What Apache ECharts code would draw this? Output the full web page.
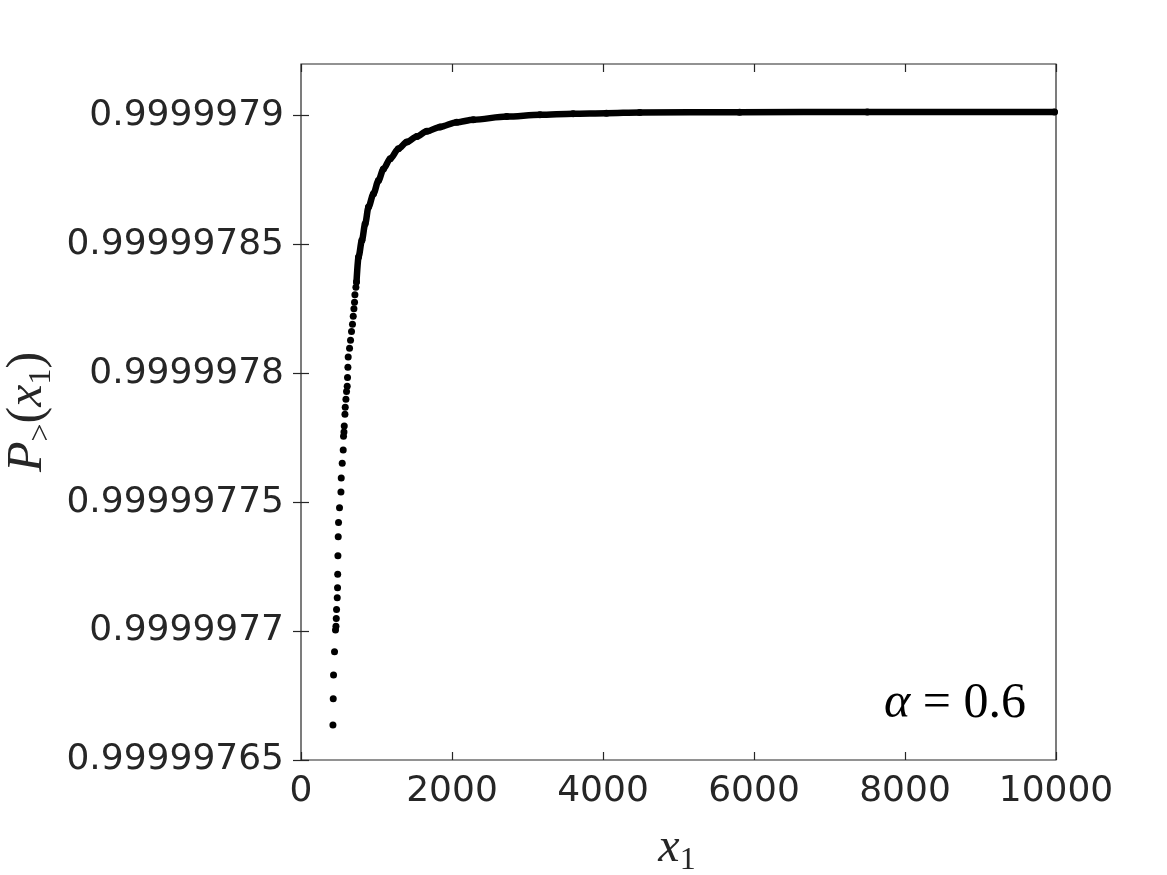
<!DOCTYPE html>
<html>
<head>
<meta charset="utf-8">
<script src="https://cdn.jsdelivr.net/npm/echarts@6/dist/echarts.min.js"></script>
<style>
    html, body { margin: 0; padding: 0; background: #fff; }
    #main { width: 1167px; height: 875px; }
</style>
</head>
<body>
<div id="main"></div>
<script>
// base of the y scale: values are plotted as (P - BASE) in units of 1e-8
var BASE = 0.9999976;

// isolated points at the bottom of the curve (x1, P)
var sparseX = [423, 427, 431, 444, 457, 463, 467, 471, 480, 484, 486, 489, 493, 497, 510, 529, 533, 546, 559, 563,
    569, 573, 582, 586, 595, 603, 612, 616, 621, 625, 643, 656, 669, 682, 692, 701, 709, 714, 727];
var sparseP = [0.9999976636, 0.9999976738, 0.9999976830, 0.9999976920, 0.9999977004, 0.9999977019, 0.9999977049,
    0.9999977084, 0.9999977129, 0.9999977168, 0.9999977221, 0.9999977292, 0.9999977366, 0.9999977421, 0.9999977479,
    0.9999977540, 0.9999977594, 0.9999977651, 0.9999977703, 0.9999977756, 0.9999977772, 0.9999977796, 0.9999977841,
    0.9999977868, 0.9999977899, 0.9999977930, 0.9999977950, 0.9999977984, 0.9999978024, 0.9999978063, 0.9999978097,
    0.9999978128, 0.9999978162, 0.9999978190, 0.9999978221, 0.9999978251, 0.9999978276, 0.9999978305, 0.9999978334];

// where the points overlap into a continuous band (x1, P)
var denseX = [735, 762, 807, 850, 894, 960, 1026, 1092, 1181, 1290, 1402, 1534, 1666, 1842, 2063, 2282, 2724,
    3164, 3604, 4046, 4486, 5809, 7500, 9980];
var denseP = [0.9999978354, 0.9999978451, 0.9999978516, 0.9999978580, 0.9999978645, 0.9999978697, 0.9999978748,
    0.9999978793, 0.9999978832, 0.9999978871, 0.9999978897, 0.9999978919, 0.9999978939, 0.9999978956, 0.9999978974,
    0.9999978984, 0.9999978996, 0.9999979003, 0.9999979007, 0.9999979009, 0.9999979012, 0.9999979013, 0.9999979014,
    0.9999979014];

var xTicks = [0, 2000, 4000, 6000, 8000, 10000];
var yTicks = [0.99999765, 0.9999977, 0.99999775, 0.9999978, 0.99999785, 0.9999979];
var yTop = 0.99999792;

function toU(p) {
    return Math.round((p - BASE) * 1e8 * 1e4) / 1e4;
}
function pairs(xs, ps) {
    return xs.map(function(x, i) { return [x, toU(ps[i])]; });
}

var dark = '#262626';
var tickFont = 'DejaVu Sans';
var mathFont = 'Liberation Serif';

var yMin = toU(yTicks[0]);
var yStep = toU(yTicks[1]) - toU(yTicks[0]);
var yMax = toU(yTop);
var yTickU = yTicks.map(toU);

function yLabel(v) {
    return ('0.' + String(99999760 + Math.round(v))).replace(/0+$/, '');
}

var myChart = echarts.init(document.getElementById('main'));

var tickStyle = { inside: true, length: 8, lineStyle: { color: dark, width: 1.2 } };

var option = {
    backgroundColor: '#fff',
    animation: false,
    grid: {
        left: 301,
        right: 111,
        top: 64,
        bottom: 115,
        show: true,
        borderColor: dark,
        borderWidth: 1.2
    },
    xAxis: [{
        type: 'value',
        min: xTicks[0],
        max: xTicks[xTicks.length - 1],
        interval: xTicks[1] - xTicks[0],
        axisLine: { show: false },
        axisTick: tickStyle,
        splitLine: { show: false },
        axisLabel: {
            color: dark, fontFamily: tickFont, fontSize: 36, margin: 14,
            formatter: function(v) { return String(v); }
        }
    }, {
        type: 'value',
        position: 'top',
        min: xTicks[0],
        max: xTicks[xTicks.length - 1],
        interval: xTicks[1] - xTicks[0],
        axisLine: { show: false },
        axisTick: tickStyle,
        splitLine: { show: false },
        axisLabel: { show: false }
    }],
    yAxis: [{
        type: 'value',
        min: yMin,
        max: yMax,
        interval: yStep,
        axisLine: { show: false },
        axisTick: { inside: true, length: 8, lineStyle: { color: dark, width: 1.2 }, customValues: yTickU },
        splitLine: { show: false },
        axisLabel: {
            color: dark, fontFamily: tickFont, fontSize: 36, margin: 17,
            customValues: yTickU,
            formatter: yLabel
        }
    }, {
        type: 'value',
        position: 'right',
        min: yMin,
        max: yMax,
        interval: yStep,
        axisLine: { show: false },
        axisTick: { inside: true, length: 8, lineStyle: { color: dark, width: 1.2 }, customValues: yTickU },
        splitLine: { show: false },
        axisLabel: { show: false }
    }],
    series: [{
        name: 'sparse',
        type: 'scatter',
        symbol: 'circle',
        symbolSize: 7,
        itemStyle: { color: '#000', opacity: 1 },
        data: pairs(sparseX, sparseP)
    }, {
        name: 'dense',
        type: 'line',
        symbol: 'circle',
        symbolSize: 7,
        showSymbol: true,
        smooth: 0.3,
        smoothMonotone: 'x',
        itemStyle: { color: '#000', opacity: 1 },
        lineStyle: { color: '#000', width: 6.5, cap: 'round', join: 'round' },
        data: pairs(denseX, denseP)
    }],
    graphic: [{
        type: 'text',
        x: 28,
        y: 412,
        rotation: Math.PI / 2,
        style: {
            text: '{i|P}{s|>}{n|(}{i|x}{s|1}{n|)}',
            align: 'center',
            verticalAlign: 'middle',
            fill: dark,
            rich: {
                i: { fontFamily: mathFont, fontStyle: 'italic', fontSize: 50, lineHeight: 60, fill: dark },
                n: { fontFamily: mathFont, fontSize: 50, lineHeight: 60, fill: dark },
                s: { fontFamily: mathFont, fontSize: 32, lineHeight: 30, verticalAlign: 'bottom', fill: dark }
            }
        }
    }, {
        type: 'text',
        x: 677,
        y: 848,
        style: {
            text: '{i|x}{s|1}',
            align: 'center',
            verticalAlign: 'middle',
            fill: dark,
            rich: {
                i: { fontFamily: mathFont, fontStyle: 'italic', fontSize: 48, lineHeight: 58, fill: dark },
                s: { fontFamily: mathFont, fontSize: 32, lineHeight: 30, verticalAlign: 'bottom', fill: dark }
            }
        }
    }, {
        type: 'text',
        x: 1026,
        y: 704,
        style: {
            text: '{i|α} = 0.6',
            align: 'right',
            verticalAlign: 'middle',
            fill: '#000',
            fontFamily: mathFont,
            fontSize: 50,
            rich: {
                i: { fontFamily: mathFont, fontStyle: 'italic', fontSize: 50, fill: '#000' }
            }
        }
    }]
};

myChart.setOption(option);
</script>
</body>
</html>
